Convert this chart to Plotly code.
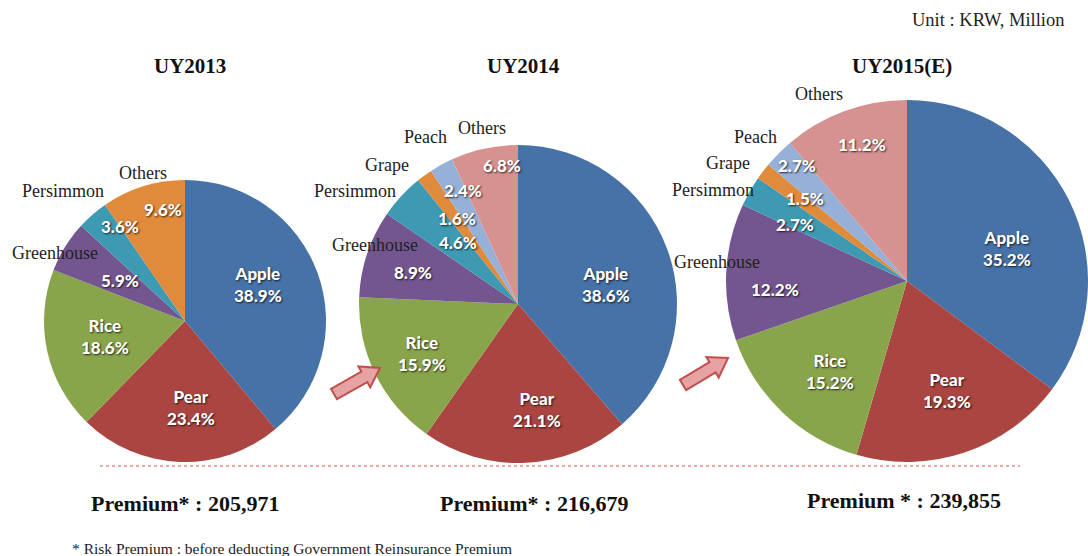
import math
import plotly.graph_objects as go

W, H = 1088, 556

# ---------------- data ----------------
titles = ["UY2013", "UY2014", "UY2015(E)"]
categories_2013 = ["Apple", "Pear", "Rice", "Greenhouse", "Persimmon", "Others"]
values_2013 = [38.9, 23.4, 18.6, 5.9, 3.6, 9.6]
categories_2014 = ["Apple", "Pear", "Rice", "Greenhouse", "Persimmon", "Grape", "Peach", "Others"]
values_2014 = [38.6, 21.1, 15.9, 8.9, 4.6, 1.6, 2.4, 6.8]
categories_2015 = ["Apple", "Pear", "Rice", "Greenhouse", "Persimmon", "Grape", "Peach", "Others"]
values_2015 = [35.2, 19.3, 15.2, 12.2, 2.7, 1.5, 2.7, 11.2]
premium_labels = ["Premium* : ", "Premium* : ", "Premium * : "]
premiums = [205971, 216679, 239855]
unit_text = "Unit : KRW, Million"
footnote = "* Risk Premium : before deducting Government Reinsurance Premium"

# ---------------- styling ----------------
colors = {
    "Apple": "#4672A8", "Pear": "#AA4541", "Rice": "#89A54C", "Greenhouse": "#73568F",
    "Persimmon": "#3E99B3", "Grape": "#E08A3C", "Peach": "#97B0D8", "Others": "#D69291",
}
others_2013_color = "#E08A3C"


def px(x, y):
    return x / W, 1 - y / H


def dom(left, top, right, bottom):
    x0, y1 = px(left, top)
    x1, y0 = px(right, bottom)
    return dict(x=[x0, x1], y=[y0, y1])


pies = [
    (categories_2013, values_2013, dom(43, 180, 327, 462)),
    (categories_2014, values_2014, dom(358, 145, 678, 463)),
    (categories_2015, values_2015, dom(726, 100, 1088, 462)),
]

fig = go.Figure()
for i, (cats, vals, d) in enumerate(pies):
    cols = [colors[c] for c in cats]
    if i == 0:
        cols[cats.index("Others")] = others_2013_color
    fig.add_trace(go.Pie(
        labels=cats, values=vals, sort=False, direction="clockwise", rotation=0,
        marker=dict(colors=cols, line=dict(width=0)),
        textinfo="none", hoverinfo="label+percent", domain=d, showlegend=False,
    ))

# label positions (pixels): inside value labels and outside category labels
inside_pos = [
    {"Apple": (258, 284), "Pear": (191, 407), "Rice": (105, 336), "Greenhouse": (120, 280),
     "Persimmon": (120, 226), "Others": (163, 209)},
    {"Apple": (606, 284), "Pear": (537, 409), "Rice": (422, 353), "Greenhouse": (413, 272),
     "Persimmon": (458, 243), "Grape": (457, 218), "Peach": (463, 190), "Others": (502, 166)},
    {"Apple": (1007, 248), "Pear": (947, 390), "Rice": (830, 372), "Greenhouse": (775, 289),
     "Persimmon": (795, 225), "Grape": (805, 198), "Peach": (797, 166), "Others": (862, 145)},
]
outside_pos = [
    {"Greenhouse": (55, 253), "Persimmon": (63, 191), "Others": (143, 173)},
    {"Greenhouse": (375, 245), "Persimmon": (355, 191), "Grape": (387, 165),
     "Peach": (425, 137), "Others": (482, 128)},
    {"Greenhouse": (717, 262), "Persimmon": (713, 190), "Grape": (728, 163),
     "Peach": (755, 137), "Others": (819, 94)},
]
named_inside = {"Apple", "Pear", "Rice"}

annotations = []
val_font = dict(family="Lato, Arial", size=17, color="white", weight=900,
                shadow="1px 1px 2px rgba(0,0,0,0.75)")
lab_font = dict(family="Liberation Serif, Times New Roman, serif", size=18, color="#222222")

for i, (cats, vals, d) in enumerate(pies):
    for c, v in zip(cats, vals):
        x, y = inside_pos[i][c]
        txt = f"{v:.1f}%"
        if c in named_inside:
            txt = f"{c}<br>{txt}"
        ax, ay = px(x, y)
        annotations.append(dict(x=ax, y=ay, xref="paper", yref="paper", text=txt,
                                showarrow=False, font=val_font, xanchor="center",
                                yanchor="middle", align="center"))
        if c in outside_pos[i]:
            ox, oy = px(*outside_pos[i][c])
            annotations.append(dict(x=ox, y=oy, xref="paper", yref="paper", text=c,
                                    showarrow=False, font=lab_font, xanchor="center",
                                    yanchor="middle"))

title_pos = [(190, 66), (523, 66), (902, 66)]
for t, (x, y) in zip(titles, title_pos):
    ax, ay = px(x, y)
    annotations.append(dict(x=ax, y=ay, xref="paper", yref="paper", text=t, showarrow=False,
                            font=dict(family="Liberation Serif, serif", size=21, color="#111111",
                                      weight="bold"), xanchor="center", yanchor="middle"))

prem_pos = [(185, 503), (534, 503), (904, 500)]
for lab, p, (x, y) in zip(premium_labels, premiums, prem_pos):
    ax, ay = px(x, y)
    annotations.append(dict(x=ax, y=ay, xref="paper", yref="paper", text=f"{lab}{p:,}",
                            showarrow=False,
                            font=dict(family="Liberation Serif, serif", size=22, color="#111111",
                                      weight="bold"), xanchor="center", yanchor="middle"))

ux, uy = px(1066, 20)
annotations.append(dict(x=ux, y=uy, xref="paper", yref="paper", text=unit_text, showarrow=False,
                        font=dict(family="Liberation Serif, serif", size=18.5, color="#222222"),
                        xanchor="right", yanchor="middle"))
fx, fy = px(70, 548)
annotations.append(dict(x=fx, y=fy, xref="paper", yref="paper", text=footnote, showarrow=False,
                        font=dict(family="Liberation Serif, serif", size=15.5, color="#222222"),
                        xanchor="left", yanchor="middle"))

# ---------------- decorations ----------------
shapes = []
lx0, ly = px(100, 466)
lx1, _ = px(1020, 466)
shapes.append(dict(type="line", xref="paper", yref="paper", x0=lx0, x1=lx1, y0=ly, y1=ly,
                   line=dict(color="#D05050", width=1, dash="dot")))


def arrow_path(tx, ty, hx, hy, shaft=6, head=12, head_len=18):
    dx, dy = hx - tx, hy - ty
    L = math.hypot(dx, dy)
    ux_, uy_ = dx / L, dy / L
    nx, ny = -uy_, ux_
    bx, by = hx - ux_ * head_len, hy - uy_ * head_len
    pts = [
        (tx + nx * shaft, ty + ny * shaft),
        (bx + nx * shaft, by + ny * shaft),
        (bx + nx * head, by + ny * head),
        (hx, hy),
        (bx - nx * head, by - ny * head),
        (bx - nx * shaft, by - ny * shaft),
        (tx - nx * shaft, ty - ny * shaft),
    ]
    s = ""
    for k, (x, y) in enumerate(pts):
        X, Y = px(x, y)
        s += ("M" if k == 0 else "L") + f"{X:.5f},{Y:.5f} "
    return s + "Z"


for (tx, ty, hx, hy) in [(334, 394, 380, 368), (683, 385, 728, 358)]:
    shapes.append(dict(type="path", xref="paper", yref="paper", path=arrow_path(tx, ty, hx, hy),
                       fillcolor="#E6A3A3", line=dict(color="#C0504D", width=2)))

fig.update_layout(
    width=W, height=H, margin=dict(l=0, r=0, t=0, b=0),
    paper_bgcolor="white", plot_bgcolor="white",
    annotations=annotations, shapes=shapes,
)

fig.write_html("out.html", config={"displayModeBar": False},
               post_script="document.body.style.margin='0';document.body.style.overflow='hidden';")
